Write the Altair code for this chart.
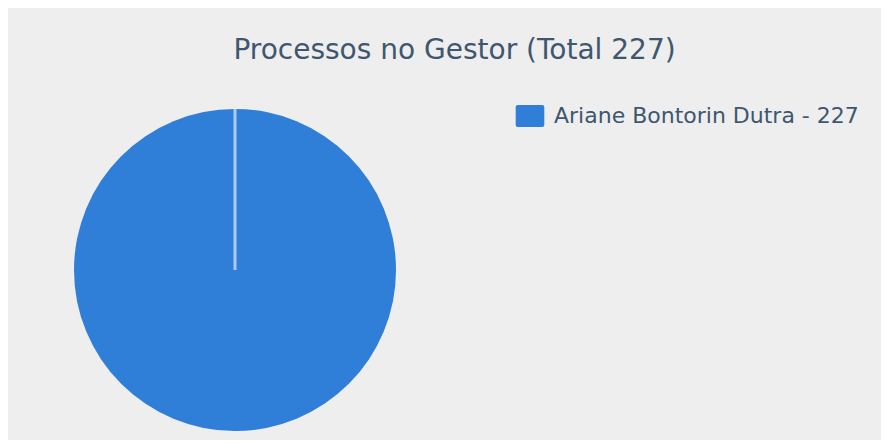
import altair as alt
import pandas as pd

names = ["Ariane Bontorin Dutra"]
values = [227]
colors = ["#2f7ed8"]

total = sum(values)
labels = [f"{n} - {v}" for n, v in zip(names, values)]
df = pd.DataFrame({"name": labels, "value": values})

title_text = f"Processos no Gestor (Total {total})"

PIE_X, PIE_Y, R = 227, 192, 161

base = alt.Chart(df)

pie = base.mark_arc(outerRadius=R).encode(
    theta=alt.Theta("value:Q", stack=True),
    color=alt.Color(
        "name:N",
        scale=alt.Scale(domain=labels, range=colors),
        legend=alt.Legend(
            title=None,
            orient="none",
            legendX=511,
            legendY=27,
            symbolType="M -1.3,-0.8 Q -1.3,-1 -1.1,-1 H 1.1 Q 1.3,-1 1.3,-0.8 V 0.8 Q 1.3,1 1.1,1 H -1.1 Q -1.3,1 -1.3,0.8 Z",
            symbolSize=484,
            symbolStrokeWidth=0,
            symbolOpacity=1,
            labelFont="DejaVu Sans",
            labelFontSize=22,
            labelColor="#3E576F",
            labelLimit=500,
            labelOffset=13,
        ),
    ),
    x=alt.value(PIE_X),
    y=alt.value(PIE_Y),
)

edge = base.mark_arc(
    outerRadius=R, fillOpacity=0, stroke="white", strokeOpacity=0.6, strokeWidth=3
).encode(
    theta=alt.value(0),
    theta2=alt.value(0),
    x=alt.value(PIE_X),
    y=alt.value(PIE_Y),
)

chart = (
    alt.layer(pie, edge)
    .properties(
        width=873,
        height=362,
        autosize=alt.AutoSizeParams(type="none"),
        padding={"left": 0, "top": 70, "right": 0, "bottom": 0},
        background="#eeeeee",
        title=alt.Title(
            title_text,
            font="DejaVu Sans",
            fontSize=28,
            fontWeight="normal",
            color="#3E576F",
            anchor="middle",
            baseline="alphabetic",
            offset=18,
            dx=10,
            dy=27,
        ),
    )
    .configure_view(strokeWidth=0)
)

chart.save("out.html", embed_options={"renderer": "svg", "actions": False})
